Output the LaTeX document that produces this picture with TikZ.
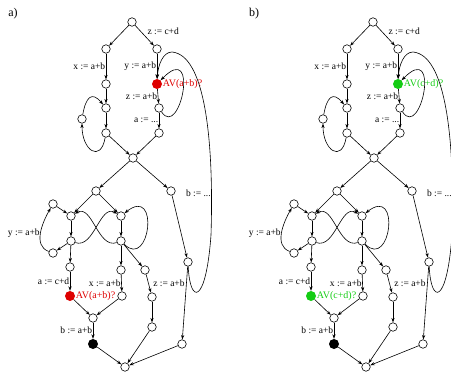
\documentclass[tikz,border=0pt]{standalone}
\usepackage{fontspec}
\setmainfont{Liberation Serif}
\usepackage{xcolor}
\usepackage{tikz}
\usetikzlibrary{arrows.meta, positioning}

\definecolor{avred}{RGB}{222,0,0}
\definecolor{avgreen}{RGB}{20,204,20}

\begin{document}
\begin{tikzpicture}[x=1pt, y=1pt,
    state/.style={circle, draw=black, line width=0.6pt, fill=white, minimum size=8.5pt, inner sep=0pt},
    query/.style={circle, minimum size=10pt, inner sep=0pt},
    lbl/.style={font=\fontsize{9.5}{11}\selectfont, inner sep=0.5pt},
    avtext/.style={font=\fontsize{10}{12}\selectfont, inner sep=0.5pt},
    arrow/.style={-{Stealth[length=4.5pt, width=3.2pt]}, line width=0.6pt}
]
\useasboundingbox (0,0) rectangle (451,-372);
\foreach \p/\dx/\col/\txt in {a/0/avred/{AV(a+b)?}, b/241/avgreen/{AV(c+d)?}} {
\begin{scope}[xshift=\dx]
\node[font=\fontsize{12}{14}\selectfont] (\p-tag) at (13,-14) {\p)};
% upper part
\node[state] (\p1) at (132,-22) {};
\node[state] (\p2) at (106,-49) {};
\node[state] (\p3) at (157,-49) {};
\node[state] (\p4) at (106,-84) {};
\node[query, fill=\col] (\p5) at (157,-84) {};
\node[state] (\p6) at (106,-108) {};
\node[state] (\p7) at (159,-108) {};
\node[state] (\p8) at (82,-119) {};
\node[state] (\p9) at (106,-133) {};
\node[state] (\p10) at (159,-133) {};
\node[state] (\p11) at (133,-158) {};
% lower part
\node[state] (\p12) at (96,-191) {};
\node[state] (\p13) at (171,-191) {};
\node[state] (\p14) at (53,-204) {};
\node[state] (\p15) at (71,-216) {};
\node[state] (\p16) at (121,-216) {};
\node[state] (\p17) at (71,-241) {};
\node[state] (\p18) at (121,-241) {};
\node[state] (\p19) at (53,-253) {};
\node[state] (\p20) at (70,-267) {};
\node[state] (\p21) at (121,-270) {};
\node[state] (\p22) at (145,-270) {};
\node[state] (\p23) at (188,-262) {};
\node[query, fill=\col] (\p24) at (70,-296) {};
\node[state] (\p25) at (122,-296) {};
\node[state] (\p26) at (152,-297) {};
\node[state] (\p27) at (93,-318) {};
\node[state] (\p28) at (152,-327) {};
\node[query, fill=black] (\p29) at (93,-344) {};
\node[state] (\p30) at (182,-344) {};
\node[state] (\p31) at (125,-367) {};
\node[avtext, text=\col, right=0pt of \p5] (\p-av1) {\txt};
\node[avtext, text=\col, right=0pt of \p24] (\p-av2) {\txt};
% plain edges
\foreach \s/\t in {1/2, 4/6, 6/9, 9/11, 10/11, 11/12, 11/13, 12/15, 12/16, 14/15,
                   15/17, 16/18, 17/19, 17/20, 18/21, 18/22, 13/23, 24/27, 25/27,
                   26/28, 23/30, 28/31, 29/31, 30/31}
    \draw[arrow] (\p\s) -- (\p\t);
% labelled edges
\draw[arrow] (\p1) -- node[lbl, right=6pt, pos=0.3] (\p-l1) {z := c+d} (\p3);
\draw[arrow] (\p2) -- node[lbl, left] (\p-l2) {x := a+b} (\p4);
\draw[arrow] (\p3) -- node[lbl, left] (\p-l3) {y := a+b} (\p5);
\draw[arrow] (\p5) -- node[lbl, left] (\p-l4) {z := a+b} (\p7);
\draw[arrow] (\p7) -- node[lbl, left] (\p-l5) {a := ...} (\p10);
\draw[arrow] (\p20) -- node[lbl, left] (\p-l6) {a := c+d} (\p24);
\draw[arrow] (\p21) -- node[lbl, left] (\p-l7) {x := a+b} (\p25);
\draw[arrow] (\p22) -- node[lbl, right=4pt] (\p-l8) {z := a+b} (\p26);
\draw[arrow] (\p27) -- node[lbl, left] (\p-l9) {b := a+b} (\p29);
% back edges
\draw[arrow] (\p8) to[out=80, in=130, looseness=2] (\p6);
\draw[arrow] (\p9) to[out=-100, in=-90, looseness=2.5] (\p8);
\draw[arrow] (\p7) .. controls (180,-140) and (200,-40) .. (\p5);
\draw[arrow] (\p23) .. controls (190,-305) and (206,-305) .. (211,-235)
    .. controls (214,-140) and (205,-55) .. (172,-52) node[lbl, left, pos=0.15] (\p-lb) {b := ...}
    .. controls (163,-52) and (158,-65) .. (\p5);
\draw[arrow] (\p19) to[out=160, in=-120] node[lbl, left] (\p-ly) {y := a+b} (\p14);
\draw[arrow] (\p17) to[out=-20, in=150] (\p16);
\draw[arrow] (\p18) to[out=-160, in=30] (\p15);
\draw[arrow] (\p18) .. controls (150,-270) and (160,-185) .. (\p16);
\end{scope}
}
\end{tikzpicture}
\end{document}
